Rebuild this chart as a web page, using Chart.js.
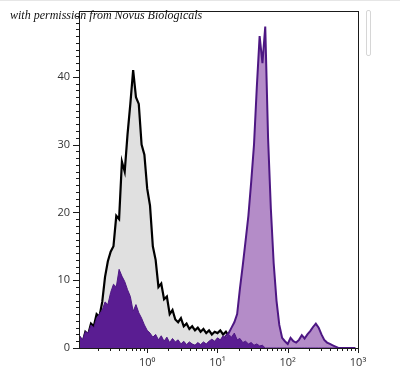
<!DOCTYPE html>
<html lang="en">
<head>
    <meta charset="UTF-8">
    <title>Flow histogram</title>
    <script src="https://cdn.jsdelivr.net/npm/chart.js"></script>
    <style>
        html, body {
            margin: 0;
            padding: 0;
            background: #fff;
        }
        .wrap {
            position: relative;
            width: 400px;
            height: 374px;
            overflow: hidden;
        }
        .wrap canvas {
            position: absolute;
            left: 0;
            top: 0;
        }
        .credit {
            position: absolute;
            left: 10px;
            top: 9px;
            font: italic 12px 'Liberation Serif', serif;
            line-height: 13px;
            color: #111;
            white-space: nowrap;
        }
        .topline {
            position: absolute;
            left: 0;
            top: 0;
            width: 400px;
            height: 1px;
            background: #e6e6e6;
        }
        .scrollbit {
            position: absolute;
            left: 366px;
            top: 10px;
            width: 3px;
            height: 44px;
            border: 1px solid #d6d6d6;
            border-radius: 2px;
        }
    </style>
</head>
<body>
    <div class="wrap">
        <canvas id="histChart" width="400" height="374"></canvas>
        <div class="topline"></div>
        <div class="scrollbit"></div>
        <div class="credit">with permission from Novus Biologicals</div>
    </div>

    <script>
        // histogram bins: centres in log10 units, one value per bin
        const binLogStart = -0.96;
        const binLogStep = 0.04;

        // isotype control (grey fill, black outline)
        const isotypeCounts = [
            1.6, 0.8, 2.4, 2.0, 3.6, 3.2, 5.0, 4.6, 6.8, 10.5,
            12.8, 14.2, 15.0, 19.5, 19.0, 27.5, 26.0, 31.5, 36.0, 41.0,
            37.0, 36.0, 30.0, 28.5, 23.5, 21.0, 15.0, 13.0, 9.0, 9.5,
            7.2, 7.6, 5.0, 5.6, 4.2, 3.8, 4.4, 3.2, 3.6, 2.8,
            3.2, 2.6, 3.0, 2.4, 2.8, 2.2, 2.6, 2.0, 2.4, 2.2,
            2.6, 2.0, 2.4, 1.8, 2.0, 1.4, 1.0, 0.7, 0.4, 0.2,
            0, 0, 0, 0, 0, 0, 0, 0, 0, 0,
            0, 0, 0, 0, 0, 0, 0, 0, 0, 0,
            0, 0, 0, 0, 0, 0, 0, 0, 0, 0,
            0, 0, 0, 0, 0, 0, 0, 0, 0
        ];

        // unstained cells (dark purple fill)
        const unstainedCounts = [
            1.8, 1.2, 2.4, 2.2, 3.4, 3.0, 4.4, 5.0, 5.6, 6.8,
            6.4, 8.2, 9.4, 9.0, 11.6, 10.6, 9.8, 8.6, 7.6, 5.4,
            6.4, 5.2, 4.4, 3.4, 2.6, 2.2, 1.6, 2.0, 1.2, 1.8,
            1.0, 1.6, 0.8, 1.4, 0.9, 1.2, 0.6, 1.0, 0.5, 0.9,
            0.6, 0.4, 0.8, 0.5, 0.9, 0.6, 1.0, 1.3, 1.0, 1.5,
            1.2, 1.8, 1.4, 2.0, 1.6, 2.2, 1.2, 1.4, 0.8, 1.0,
            0.6, 0.8, 0.4, 0.6, 0.3, 0.4, 0, 0, 0, 0,
            0, 0, 0, 0, 0, 0, 0, 0, 0, 0,
            0, 0, 0, 0, 0, 0, 0, 0, 0, 0,
            0, 0, 0, 0, 0, 0, 0, 0, 0
        ];

        // stained cells (light purple fill, dark purple outline)
        const stainedCounts = [
            0, 0, 0, 0, 0, 0, 0, 0, 0, 0,
            0, 0, 0, 0, 0, 0, 0, 0, 0, 0,
            0, 0, 0, 0, 0, 0, 0, 0, 0, 0,
            0, 0, 0, 0, 0, 0, 0, 0.2, 0.3, 0.2,
            0.4, 0.3, 0.5, 0.3, 0.6, 0.4, 0.7, 0.5, 0.8, 0.6,
            1.0, 1.2, 1.8, 2.2, 3.0, 3.8, 5.0, 8.8, 12.2, 15.8,
            19.5, 24.5, 30.0, 38.5, 46.0, 42.0, 47.4, 31.0, 20.5, 12.5,
            7.0, 3.4, 1.5, 1.0, 0.6, 1.5, 1.0, 0.8, 1.2, 1.9,
            1.4, 2.0, 2.5, 3.1, 3.6, 3.0, 2.0, 1.2, 0.8, 0.6,
            0.4, 0.2, 0, 0, 0, 0, 0, 0, 0
        ];

        const xMin = 0.107;
        const xMax = 1000;
        const xLabelValues = [1, 10, 100, 1000];
        const yMax = 49.7;
        const yLabelValues = [0, 10, 20, 30, 40];

        const superDigits = { 0: '\u2070', 1: '\u00B9', 2: '\u00B2', 3: '\u00B3' };

        const binCenters = isotypeCounts.map((_, i) => Math.pow(10, binLogStart + binLogStep * i));

        function toPoints(counts) {
            return counts.map((v, i) => ({ x: binCenters[i], y: v }));
        }

        // minor log ticks 2..9 per decade, plus the decades
        const xTickValues = [];
        [0.1, 1, 10, 100].forEach(decade => {
            for (let k = 1; k <= 9; k++) {
                const v = k * decade;
                if (v >= xMin) xTickValues.push(v);
            }
        });
        xTickValues.push(1000);

        const yTickValues = [];
        for (let v = 0; v <= 49; v++) yTickValues.push(v);

        function isXMajor(v) {
            return xLabelValues.some(m => Math.abs(m - v) / m < 1e-6);
        }

        // box round the plot + outward tick marks (long on decades / tens)
        const frameAndTicks = {
            id: 'frameAndTicks',
            afterDraw(chart) {
                const { ctx, chartArea: a, scales } = chart;
                ctx.save();
                ctx.strokeStyle = '#1a1a1a';
                ctx.lineWidth = 1;
                ctx.strokeRect(Math.round(a.left) + 0.5, Math.round(a.top) + 0.5,
                    Math.round(a.right - a.left), Math.round(a.bottom - a.top));
                ctx.beginPath();
                scales.y.ticks.forEach(t => {
                    const py = Math.round(scales.y.getPixelForValue(t.value)) + 0.5;
                    const len = t.value % 10 === 0 ? 6 : 3;
                    ctx.moveTo(Math.round(a.left) - len, py);
                    ctx.lineTo(Math.round(a.left), py);
                });
                scales.x.ticks.forEach(t => {
                    const px = Math.round(scales.x.getPixelForValue(t.value)) + 0.5;
                    const len = isXMajor(t.value) ? 5 : 3;
                    ctx.moveTo(px, Math.round(a.bottom));
                    ctx.lineTo(px, Math.round(a.bottom) + len);
                });
                ctx.stroke();
                ctx.restore();
            }
        };

        const ctx = document.getElementById('histChart').getContext('2d');
        new Chart(ctx, {
            type: 'line',
            data: {
                datasets: [
                    {
                        label: 'Unstained',
                        data: toPoints(unstainedCounts),
                        borderColor: '#4e1784',
                        backgroundColor: '#5a1d92',
                        borderWidth: 1,
                        fill: 'origin',
                        pointRadius: 0,
                        tension: 0
                    },
                    {
                        label: 'Stained',
                        data: toPoints(stainedCounts),
                        borderColor: '#4d1783',
                        backgroundColor: '#b48cc8',
                        borderWidth: 2,
                        fill: 'origin',
                        pointRadius: 0,
                        tension: 0
                    },
                    {
                        label: 'Isotype',
                        data: toPoints(isotypeCounts),
                        borderColor: '#000000',
                        backgroundColor: '#e0e0e0',
                        borderWidth: 2.2,
                        fill: 'origin',
                        pointRadius: 0,
                        tension: 0
                    }
                ]
            },
            options: {
                responsive: false,
                animation: false,
                layout: {
                    padding: { left: 0, top: 11, right: 42, bottom: 0 }
                },
                plugins: {
                    legend: { display: false },
                    tooltip: { enabled: false }
                },
                scales: {
                    x: {
                        type: 'logarithmic',
                        min: xMin,
                        max: xMax,
                        afterBuildTicks: scale => {
                            scale.ticks = xTickValues.map(v => ({ value: v, major: isXMajor(v) }));
                        },
                        afterFit: scale => {
                            scale.height = 26;
                            scale.paddingLeft = 0;
                            scale.paddingRight = 0;
                        },
                        grid: { display: false, drawTicks: false },
                        border: { display: false },
                        ticks: {
                            autoSkip: false,
                            maxRotation: 0,
                            padding: 8,
                            color: '#333',
                            font: { family: "'Open Sans', 'DejaVu Sans', sans-serif", size: 11 },
                            callback: value => {
                                if (!isXMajor(value)) return '';
                                return '10' + superDigits[Math.round(Math.log10(value))];
                            }
                        }
                    },
                    y: {
                        type: 'linear',
                        min: 0,
                        max: yMax,
                        afterBuildTicks: scale => {
                            scale.ticks = yTickValues.map(v => ({ value: v }));
                        },
                        afterFit: scale => {
                            scale.width = 79;
                            scale.paddingTop = 0;
                            scale.paddingBottom = 0;
                        },
                        grid: { display: false, drawTicks: false },
                        border: { display: false },
                        ticks: {
                            autoSkip: false,
                            padding: 9,
                            color: '#333',
                            font: { family: "'Open Sans', 'DejaVu Sans', sans-serif", size: 11 },
                            callback: value => yLabelValues.includes(value) ? String(value) : ''
                        }
                    }
                }
            },
            plugins: [frameAndTicks]
        });
    </script>
</body>
</html>
